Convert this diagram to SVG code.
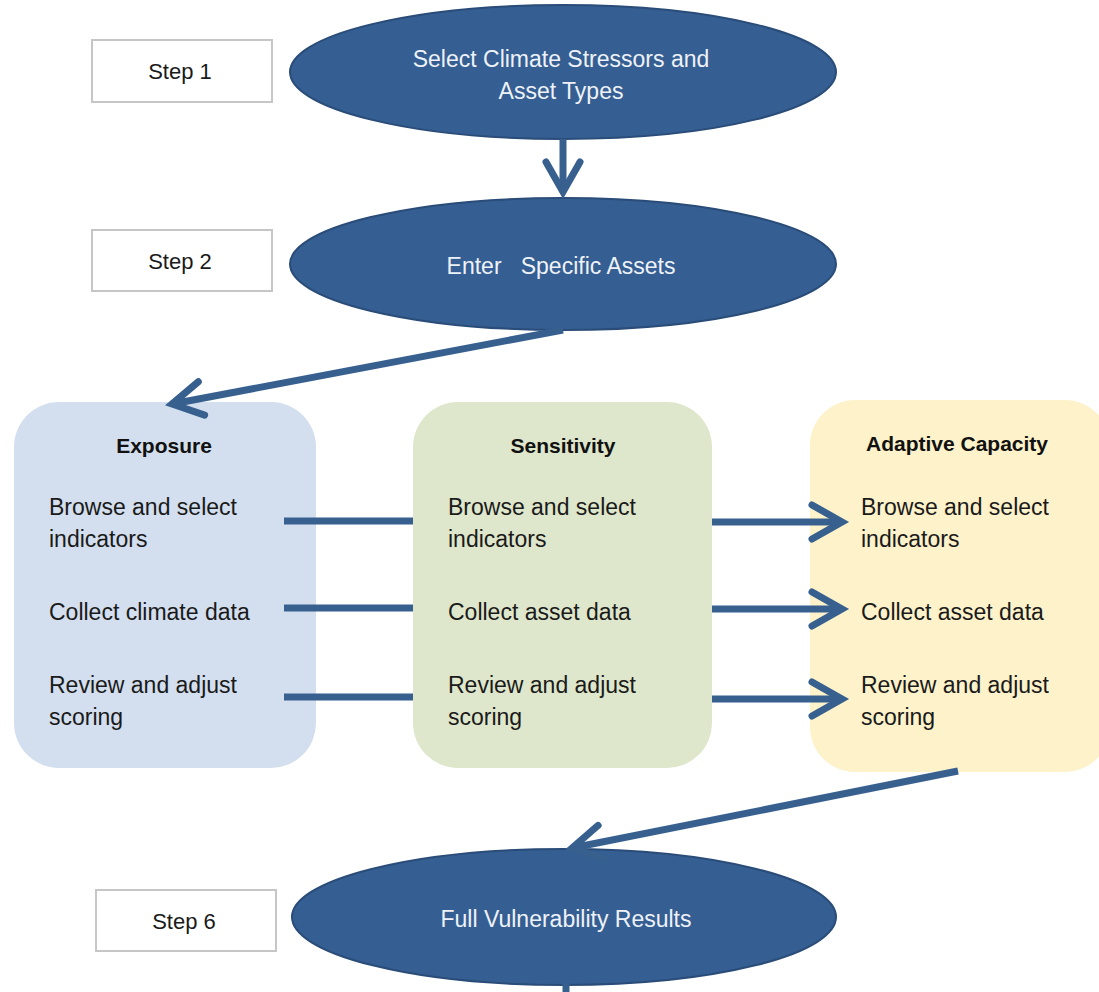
<svg xmlns="http://www.w3.org/2000/svg" width="1099" height="992" viewBox="0 0 1099 992">
<defs>
<style>
.step{fill:#fff;stroke:#c6c6c6;stroke-width:2}
.steptxt{font-family:"Liberation Sans",Arial,sans-serif;font-size:22px;fill:#1a1a1a;text-anchor:middle}
.ell{fill:#355e92;stroke:#2a4c78;stroke-width:2}
.elltxt{font-family:"Liberation Sans",Arial,sans-serif;font-size:23px;fill:#eef2f8;text-anchor:middle;white-space:pre}
.title{font-family:"Liberation Sans",Arial,sans-serif;font-size:21px;font-weight:bold;fill:#111;text-anchor:middle}
.body{font-family:"Liberation Sans",Arial,sans-serif;font-size:23px;fill:#1a1a1a}
.con{fill:none;stroke:#37608f;stroke-width:7}
</style>
<marker id="chev" markerUnits="userSpaceOnUse" markerWidth="50" markerHeight="50" viewBox="-40 -25 50 50" refX="0" refY="0" orient="auto">
<path d="M -30 -17 L 0 0 L -30 17" fill="none" stroke="#37608f" stroke-width="7" stroke-linecap="round" stroke-linejoin="miter"/>
</marker>
</defs>

<g id="step1">
<rect class="step" x="92" y="40" width="180" height="62"/>
<text class="steptxt" x="180" y="79">Step 1</text>
</g>
<g id="step2">
<rect class="step" x="92" y="230" width="180" height="61"/>
<text class="steptxt" x="180" y="269">Step 2</text>
</g>
<g id="step6">
<rect class="step" x="96" y="890" width="180" height="61"/>
<text class="steptxt" x="184" y="929">Step 6</text>
</g>

<g id="select-climate">
<ellipse class="ell" cx="563" cy="72" rx="273" ry="67"/>
<text class="elltxt" x="561" y="67">Select Climate Stressors and</text>
<text class="elltxt" x="561" y="99">Asset Types</text>
</g>
<g id="enter-assets">
<ellipse class="ell" cx="563" cy="264" rx="273" ry="66"/>
<text class="elltxt" x="561" y="274">Enter   Specific Assets</text>
</g>
<g id="full-results">
<ellipse class="ell" cx="564" cy="917" rx="272" ry="68"/>
<text class="elltxt" x="566" y="927">Full Vulnerability Results</text>
</g>

<g id="exposure">
<rect x="14" y="402" width="302" height="366" rx="45" ry="45" fill="#d3dfee"/>
<text class="title" x="164" y="453">Exposure</text>
<text class="body" x="49" y="515">Browse and select</text>
<text class="body" x="49" y="547">indicators</text>
<text class="body" x="49" y="620">Collect climate data</text>
<text class="body" x="49" y="693">Review and adjust</text>
<text class="body" x="49" y="725">scoring</text>
</g>

<g id="sensitivity">
<rect x="413" y="402" width="299" height="366" rx="45" ry="45" fill="#dee7cb"/>
<text class="title" x="563" y="453">Sensitivity</text>
<text class="body" x="448" y="515">Browse and select</text>
<text class="body" x="448" y="547">indicators</text>
<text class="body" x="448" y="620">Collect asset data</text>
<text class="body" x="448" y="693">Review and adjust</text>
<text class="body" x="448" y="725">scoring</text>
</g>

<g id="adaptive-capacity">
<rect x="810" y="400" width="300" height="372" rx="45" ry="45" fill="#fdf2ca"/>
<text class="title" x="957" y="451">Adaptive Capacity</text>
<text class="body" x="861" y="515">Browse and select</text>
<text class="body" x="861" y="547">indicators</text>
<text class="body" x="861" y="620">Collect asset data</text>
<text class="body" x="861" y="693">Review and adjust</text>
<text class="body" x="861" y="725">scoring</text>
</g>

<g id="connectors">
<path class="con" d="M 563 139 L 563 192" marker-end="url(#chev)"/>
<path class="con" d="M 563 330 L 172 404" marker-end="url(#chev)"/>
<path class="con" d="M 284 521 L 413 521"/>
<path class="con" d="M 284 608 L 413 608"/>
<path class="con" d="M 284 697 L 413 697"/>
<path class="con" d="M 712 522 L 842 522" marker-end="url(#chev)"/>
<path class="con" d="M 712 609 L 842 609" marker-end="url(#chev)"/>
<path class="con" d="M 712 699 L 842 699" marker-end="url(#chev)"/>
<path class="con" d="M 958 771 L 572 848" marker-end="url(#chev)"/>
<path class="con" d="M 566 984 L 566 992"/>
</g>
</svg>
